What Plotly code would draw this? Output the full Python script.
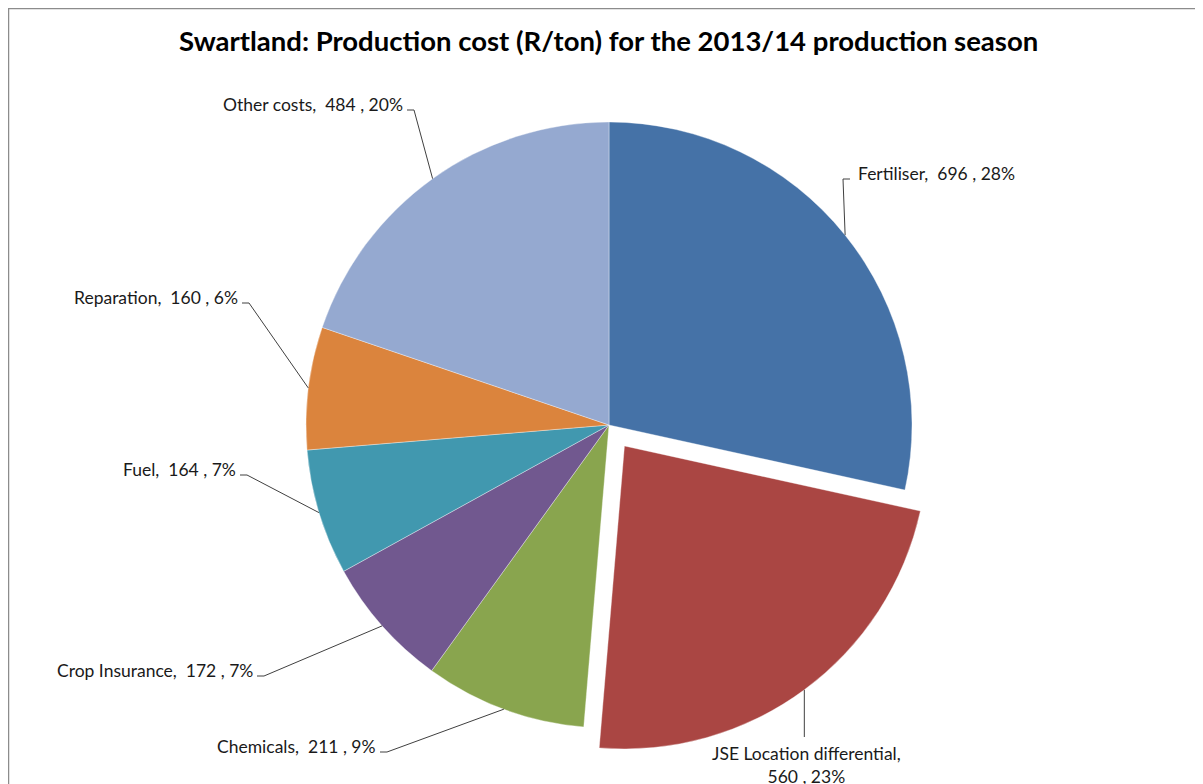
import math
import plotly.graph_objects as go

# ---- data ----
categories = ["Fertiliser", "JSE Location differential", "Chemicals", "Crop Insurance",
              "Fuel", "Reparation", "Other costs"]
values = [696, 560, 211, 172, 164, 160, 484]
pct_text = ["28%", "23%", "9%", "7%", "7%", "6%", "20%"]
colors = ["#4572A7", "#AA4643", "#89A54E", "#71588F", "#4198AF", "#DB843D", "#95A9D0"]
pulls = [0, 0.086, 0, 0, 0, 0, 0]

W, H = 1203, 784
OFF = 8  # page body margin offset
CX, CY, R = 609, 425, 303  # pie centre / radius in page px

# label placement (page px): anchor point of text, side
label_pos = {
    "Fertiliser": (856, 173, "left"),
    "JSE Location differential": (806, 741, "bottom"),
    "Chemicals": (378, 746, "right"),
    "Crop Insurance": (255, 670, "right"),
    "Fuel": (238, 469, "right"),
    "Reparation": (240, 297, "right"),
    "Other costs": (405, 104, "right"),
}

FONT = "Lato, Open Sans, sans-serif"

def px(x):
    return (x - OFF) / W

def py(y):
    return 1 - (y - OFF) / H

maxpull = max(pulls)
half = R * (1 + maxpull)

fig = go.Figure(go.Pie(
    labels=categories, values=values, sort=False, direction="clockwise", rotation=0,
    pull=pulls, textinfo="none", hoverinfo="label+value+percent",
    marker=dict(colors=colors, line=dict(color="rgba(255,255,255,0.6)", width=0.6)),
    domain=dict(x=[px(CX - half), px(CX + half)], y=[py(CY + half), py(CY - half)]),
    showlegend=False,
))

annotations = []
shapes = []
total = sum(values)
cum = 0
for cat, v, pct, pl in zip(categories, values, pct_text, pulls):
    mid = (cum + v / 2) / total * 2 * math.pi
    cum += v
    rr = R * (1 + pl)
    ex = CX + rr * math.sin(mid)
    ey = CY - rr * math.cos(mid)
    lx, ly, side = label_pos[cat]
    if side == "bottom":
        text = f"{cat},<br>{v} , {pct}"
        annotations.append(dict(x=px(lx), y=py(ly), xref="paper", yref="paper", text=text,
                                showarrow=False, xanchor="center", yanchor="top", align="center",
                                font=dict(family=FONT, size=17.5, color="#1a1a1a")))
        path = f"M {px(ex)} {py(ey)} L {px(ex)} {py(ly - 4)}"
    else:
        text = f"{cat},\u00a0 {v} , {pct}"
        xa = "right" if side == "right" else "left"
        annotations.append(dict(x=px(lx), y=py(ly), xref="paper", yref="paper", text=text,
                                showarrow=False, xanchor=xa, yanchor="middle",
                                font=dict(family=FONT, size=17.5, color="#1a1a1a")))
        ty = ly + 6
        if side == "right":
            t0, t1 = lx + 2, lx + 9
        else:
            t0, t1 = lx - 6, lx - 13
        path = f"M {px(t0)} {py(ty)} L {px(t1)} {py(ty)} L {px(ex)} {py(ey)}"
    shapes.append(dict(type="path", xref="paper", yref="paper", path=path,
                       line=dict(color="#404040", width=1)))

# chart border
shapes.append(dict(type="rect", xref="paper", yref="paper", x0=px(8.5), y0=py(810), x1=px(1230), y1=py(8.5),
                   line=dict(color="#8c8c8c", width=1.5), layer="below"))

annotations.append(dict(x=px(608), y=py(40), xref="paper", yref="paper",
                        text="<b>Swartland: Production cost (R/ton) for the 2013/14 production season</b>",
                        showarrow=False, xanchor="center", yanchor="middle",
                        font=dict(family=FONT, size=27.5, color="#000000")))

fig.update_layout(width=W, height=H, margin=dict(l=0, r=0, t=0, b=0),
                  paper_bgcolor="white", plot_bgcolor="white",
                  annotations=annotations, shapes=shapes)

fig.write_html("out.html")
